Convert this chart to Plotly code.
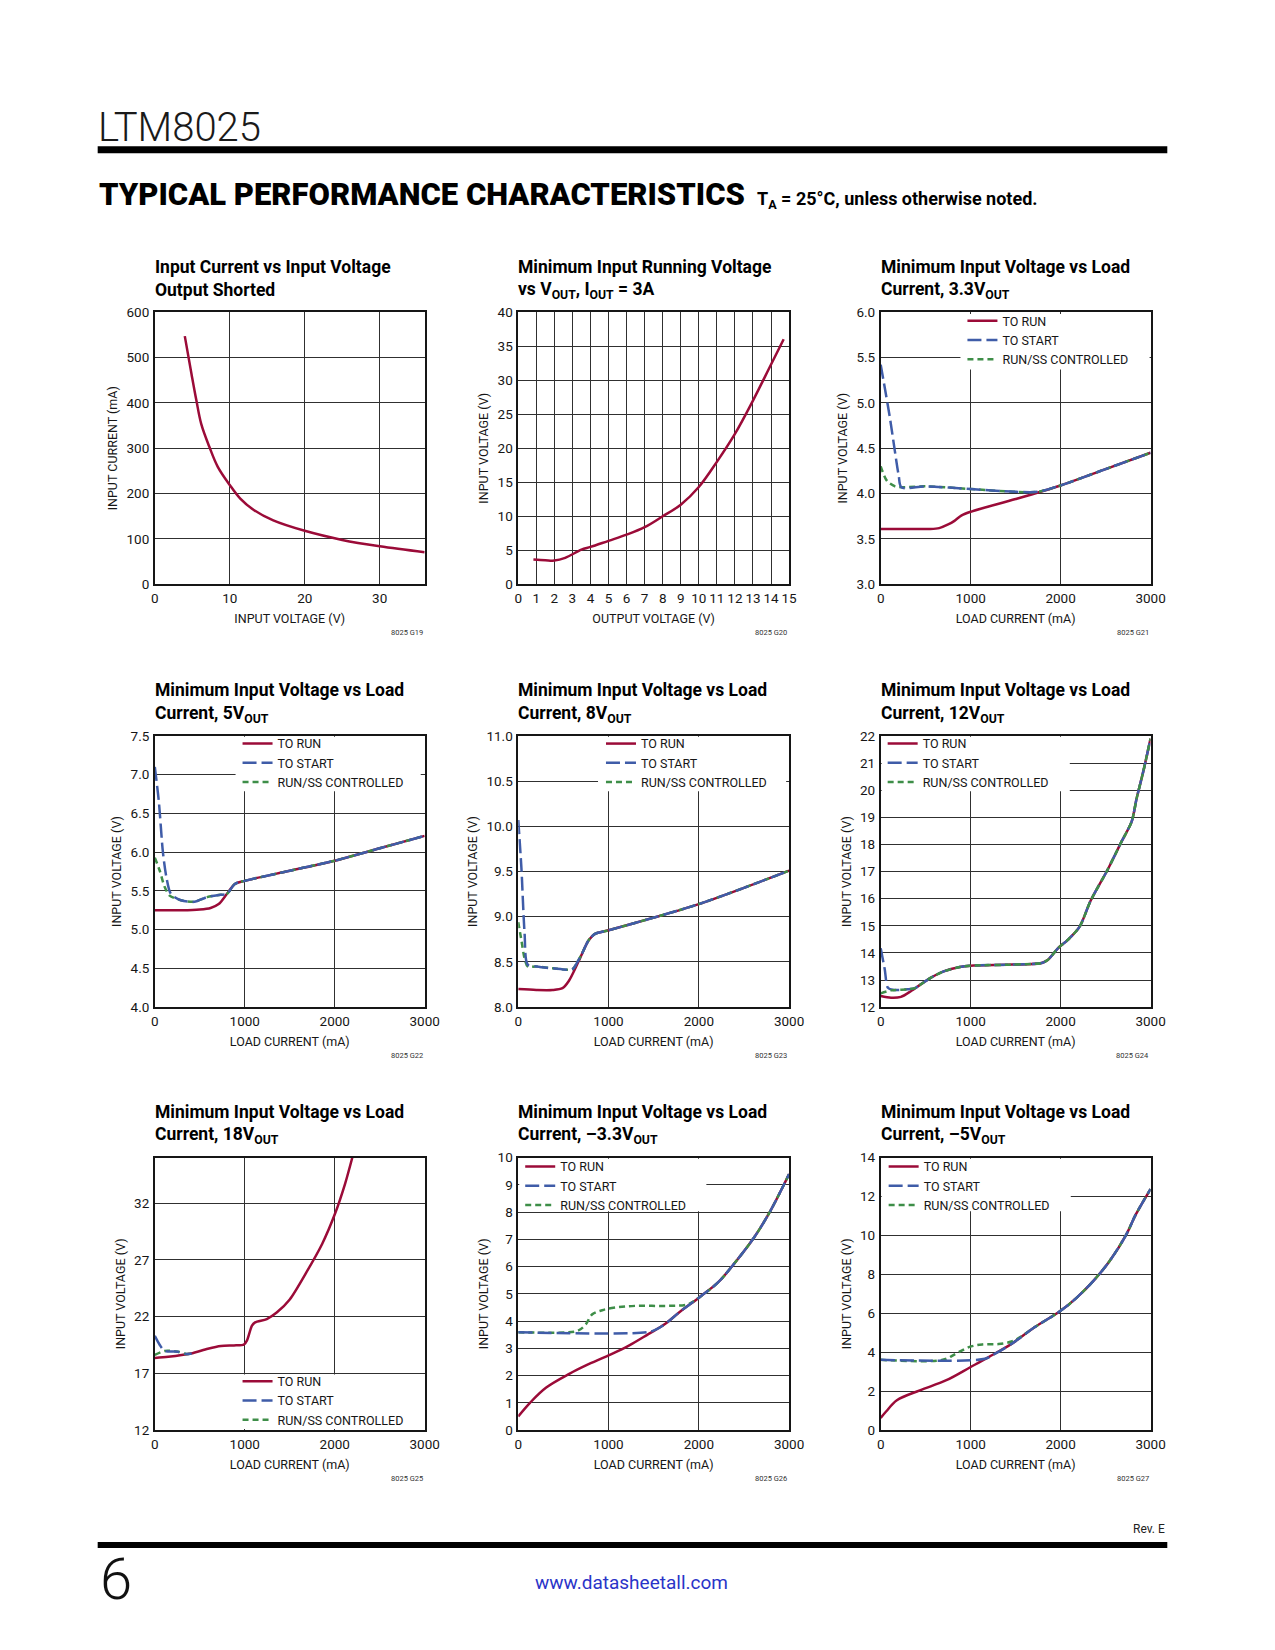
import plotly.graph_objects as go

PAGE_W, PAGE_H = 1275, 1650
OFF = 8  # default browser body margin
W, H = PAGE_W - 2 * OFF, PAGE_H - 2 * OFF  # figure fits the window without overflow
FONT = "Roboto, 'Liberation Sans', sans-serif"
INK = "#161616"
RED = "#9b0b38"
BLUE = "#3f5ca8"
GREEN = "#3e8e48"

# ---------------- data ----------------
# G19: input current vs input voltage, output shorted
g19_vin = [4.0, 4.9, 5.55, 6.2, 7.3, 8.4, 10, 11.4, 13.2, 15.8, 20, 25, 30, 36]
g19_iin = [547, 463, 405, 353, 302, 259, 219, 189, 164, 141, 118, 98, 84, 71]

# G20: minimum input running voltage vs VOUT (IOUT = 3A)
g20_vout = [0.84, 1.5, 2.0, 2.6, 3.5, 4.0, 5.0, 6.0, 7.0, 8.0, 9.0, 10.0, 11.0, 12.0, 13.0, 14.0, 14.7]
g20_vin = [3.65, 3.55, 3.5, 3.9, 5.1, 5.5, 6.4, 7.3, 8.4, 10.0, 11.7, 14.3, 18.0, 22.1, 27.0, 32.3, 36.0]

# G21: 3.3VOUT
g21_run_x = [0, 300, 550, 650, 750, 820, 900, 1000, 1500, 2000, 2500, 3000]
g21_run_y = [3.61, 3.61, 3.61, 3.62, 3.66, 3.70, 3.76, 3.80, 3.94, 4.09, 4.27, 4.45]
g21_start_x = [0, 100, 200, 230, 500, 1000, 1500, 1750, 2000, 2500, 3000]
g21_start_y = [5.42, 4.85, 4.20, 4.07, 4.08, 4.05, 4.02, 4.02, 4.09, 4.27, 4.45]
g21_ss_x = [0, 70, 160, 230, 500, 1000, 1500, 1750, 2000, 2500, 3000]
g21_ss_y = [4.30, 4.14, 4.08, 4.07, 4.08, 4.05, 4.02, 4.02, 4.09, 4.27, 4.45]

# G22: 5VOUT
g22_run_x = [0, 300, 500, 620, 710, 800, 890, 1000, 1500, 2000, 2500, 3000]
g22_run_y = [5.25, 5.25, 5.26, 5.28, 5.33, 5.46, 5.59, 5.63, 5.76, 5.89, 6.05, 6.21]
g22_start_x = [0, 45, 90, 130, 180, 290, 440, 580, 730, 800, 890, 1000, 1500, 2000, 2500, 3000]
g22_start_y = [7.10, 6.65, 6.00, 5.67, 5.46, 5.38, 5.36, 5.42, 5.45, 5.46, 5.59, 5.63, 5.76, 5.89, 6.05, 6.21]
g22_ss_x = [0, 55, 110, 165, 290, 440, 580, 730, 800, 890, 1000, 1500, 2000, 2500, 3000]
g22_ss_y = [5.93, 5.76, 5.55, 5.44, 5.38, 5.36, 5.42, 5.45, 5.46, 5.59, 5.63, 5.76, 5.89, 6.05, 6.21]

# G23: 8VOUT
g23_run_x = [0, 200, 380, 490, 560, 670, 780, 850, 1000, 1500, 2000, 2500, 3000]
g23_run_y = [8.20, 8.19, 8.19, 8.21, 8.29, 8.51, 8.74, 8.81, 8.85, 8.99, 9.14, 9.32, 9.51]
g23_start_x = [0, 35, 70, 105, 200, 380, 600, 650, 700, 780, 850, 1000, 1500, 2000, 2500, 3000]
g23_start_y = [10.07, 9.54, 8.82, 8.47, 8.45, 8.43, 8.42, 8.49, 8.58, 8.74, 8.81, 8.85, 8.99, 9.14, 9.32, 9.51]
g23_ss_x = [0, 35, 70, 105, 200, 380, 600, 650, 700, 780, 850, 1000, 1500, 2000, 2500, 3000]
g23_ss_y = [8.94, 8.74, 8.54, 8.45, 8.45, 8.43, 8.42, 8.49, 8.58, 8.74, 8.81, 8.85, 8.99, 9.14, 9.32, 9.51]

# G24: 12VOUT
g24_run_x = [0, 115, 225, 335, 445, 555, 700, 880, 1000, 1460, 1790, 1860, 1970, 2080, 2210, 2335,
             2515, 2680, 2790, 2845, 2920, 3000]
g24_run_y = [12.41, 12.35, 12.38, 12.59, 12.84, 13.08, 13.32, 13.48, 13.53, 13.57, 13.63, 13.75, 14.17,
             14.48, 14.96, 15.93, 17.02, 18.12, 18.84, 19.69, 20.7, 21.9]
g24_start_x = [0, 45, 80, 135, 300, 380] + g24_run_x[4:]
g24_start_y = [14.17, 13.40, 12.72, 12.64, 12.66, 12.70] + g24_run_y[4:]
g24_ss_x = [0, 115, 300, 380] + g24_run_x[4:]
g24_ss_y = [12.51, 12.62, 12.66, 12.70] + g24_run_y[4:]

# G25: 18VOUT
g25_run_x = [0, 150, 400, 590, 735, 880, 990, 1025, 1080, 1115, 1245, 1355, 1500, 1680, 1860, 2005, 2115, 2195]
g25_run_y = [18.35, 18.45, 18.74, 19.17, 19.41, 19.46, 19.52, 19.90, 21.2, 21.49, 21.78, 22.35, 23.51,
             25.83, 28.4, 31.1, 33.7, 36.0]
g25_start_x = [0, 55, 112, 258, 350, 410]
g25_start_y = [20.3, 19.5, 18.97, 18.9, 18.7, 18.75]
g25_ss_x = [0, 112, 258, 350, 410]
g25_ss_y = [18.62, 18.97, 18.9, 18.7, 18.75]

# G26: -3.3VOUT
g26_run_x = [0, 130, 310, 570, 750, 1000, 1225, 1445, 1625, 1805, 2005, 2210, 2355, 2610, 2790, 3000]
g26_run_y = [0.5, 1.0, 1.56, 2.07, 2.37, 2.74, 3.10, 3.53, 3.89, 4.38, 4.87, 5.41, 5.96, 7.06, 8.03, 9.4]
g26_start_x = [0, 1450, 1530] + g26_run_x[8:]
g26_start_y = [3.59, 3.60, 3.70] + g26_run_y[8:]
g26_ss_x = [0, 620, 690, 750, 820, 930, 1080, 1300, 1660, 1880] + g26_run_x[10:]
g26_ss_y = [3.59, 3.61, 3.70, 3.89, 4.25, 4.40, 4.50, 4.56, 4.56, 4.62] + g26_run_y[10:]

# G27: -5VOUT
g27_run_x = [0, 60, 180, 435, 730, 1000, 1200, 1455, 1710, 2000, 2180, 2365, 2545, 2730, 2835, 3000]
g27_run_y = [0.62, 0.95, 1.53, 2.04, 2.56, 3.24, 3.75, 4.43, 5.28, 6.13, 6.81, 7.67, 8.69, 10.05, 11.07, 12.39]
g27_start_x = [0, 1160, 1235] + g27_run_x[7:]
g27_start_y = [3.61, 3.66, 3.83] + g27_run_y[7:]
g27_ss_x = [0, 690, 835, 980, 1130, 1310, 1455, 1560] + g27_run_x[8:]
g27_ss_y = [3.61, 3.61, 3.92, 4.26, 4.40, 4.42, 4.55, 4.80] + g27_run_y[8:]

load_ticks = [0, 1000, 2000, 3000]

# ---------------- layout geometry (page pixels) ----------------
cols = [(153, 427), (522, 797), (890, 1164)]
rows = [(307, 582), (735, 1009), (1161, 1436)]


def fx(px):
    return (px - OFF) / W


def fy(py):
    return 1 - (py - OFF) / H


panels = [
    dict(t1="Input Current vs Input Voltage", t2="Output Shorted",
         xr=[0, 36], xt=[0, 10, 20, 30], yr=[0, 600], yt=[0, 100, 200, 300, 400, 500, 600], yf="",
         xtitle="INPUT VOLTAGE (V)", ytitle="INPUT CURRENT (mA)", code="8025 G19", sm=1.0,
         series=[(g19_vin, g19_iin, "r")], leg=None),
    dict(t1="Minimum Input Running Voltage", t2="vs V<sub>OUT</sub>, I<sub>OUT</sub> = 3A",
         xr=[0, 15], xt=list(range(0, 16)), yr=[0, 40], yt=[0, 5, 10, 15, 20, 25, 30, 35, 40], yf="",
         xtitle="OUTPUT VOLTAGE (V)", ytitle="INPUT VOLTAGE (V)", code="8025 G20", sm=1.0,
         series=[(g20_vout, g20_vin, "r")], leg=None),
    dict(t1="Minimum Input Voltage vs Load", t2="Current, 3.3V<sub>OUT</sub>",
         xr=[0, 3000], xt=load_ticks, yr=[3.0, 6.0], yt=[3.0, 3.5, 4.0, 4.5, 5.0, 5.5, 6.0], yf=".1f",
         xtitle="LOAD CURRENT (mA)", ytitle="INPUT VOLTAGE (V)", code="8025 G21", sm=0.8,
         series=[(g21_run_x, g21_run_y, "r"), (g21_ss_x, g21_ss_y, "g"), (g21_start_x, g21_start_y, "b")],
         leg=(978, 301), box=(971, 1163, 309, 365)),
    dict(t1="Minimum Input Voltage vs Load", t2="Current, 5V<sub>OUT</sub>",
         xr=[0, 3000], xt=load_ticks, yr=[4.0, 7.5], yt=[4.0, 4.5, 5.0, 5.5, 6.0, 6.5, 7.0, 7.5], yf=".1f",
         xtitle="LOAD CURRENT (mA)", ytitle="INPUT VOLTAGE (V)", code="8025 G22", sm=0.8,
         series=[(g22_run_x, g22_run_y, "r"), (g22_ss_x, g22_ss_y, "g"), (g22_start_x, g22_start_y, "b")],
         leg=(242, 728), box=(235, 423, 736, 791)),
    dict(t1="Minimum Input Voltage vs Load", t2="Current, 8V<sub>OUT</sub>",
         xr=[0, 3000], xt=load_ticks, yr=[8.0, 11.0], yt=[8.0, 8.5, 9.0, 9.5, 10.0, 10.5, 11.0], yf=".1f",
         xtitle="LOAD CURRENT (mA)", ytitle="INPUT VOLTAGE (V)", code="8025 G23", sm=0.8,
         series=[(g23_run_x, g23_run_y, "r"), (g23_ss_x, g23_ss_y, "g"), (g23_start_x, g23_start_y, "b")],
         leg=(611, 728), box=(603, 794, 736, 791)),
    dict(t1="Minimum Input Voltage vs Load", t2="Current, 12V<sub>OUT</sub>",
         xr=[0, 3000], xt=load_ticks, yr=[12, 22], yt=list(range(12, 23)), yf="",
         xtitle="LOAD CURRENT (mA)", ytitle="INPUT VOLTAGE (V)", code="8025 G24", sm=0.8,
         series=[(g24_run_x, g24_run_y, "r"), (g24_start_x, g24_start_y, "b"), (g24_ss_x, g24_ss_y, "g")],
         leg=(897, 728), box=(891, 1082, 736, 791)),
    dict(t1="Minimum Input Voltage vs Load", t2="Current, 18V<sub>OUT</sub>",
         xr=[0, 3000], xt=load_ticks, yr=[12, 36], yt=[12, 17, 22, 27, 32], yf="",
         xtitle="LOAD CURRENT (mA)", ytitle="INPUT VOLTAGE (V)", code="8025 G25", sm=0.8,
         series=[(g25_run_x, g25_run_y, "r"), (g25_ss_x, g25_ss_y, "g"), (g25_start_x, g25_start_y, "b")],
         leg=(242, 1372), box=(235, 426, 1380, 1435)),
    dict(t1="Minimum Input Voltage vs Load", t2="Current, \u20133.3V<sub>OUT</sub>",
         xr=[0, 3000], xt=load_ticks, yr=[0, 10], yt=list(range(0, 11)), yf="",
         xtitle="LOAD CURRENT (mA)", ytitle="INPUT VOLTAGE (V)", code="8025 G26", sm=1.0,
         series=[(g26_run_x, g26_run_y, "r"), (g26_ss_x, g26_ss_y, "g"), (g26_start_x, g26_start_y, "b")],
         leg=(529, 1155), box=(523, 713, 1162, 1215)),
    dict(t1="Minimum Input Voltage vs Load", t2="Current, \u20135V<sub>OUT</sub>",
         xr=[0, 3000], xt=load_ticks, yr=[0, 14], yt=[0, 2, 4, 6, 8, 10, 12, 14], yf="",
         xtitle="LOAD CURRENT (mA)", ytitle="INPUT VOLTAGE (V)", code="8025 G27", sm=1.0,
         series=[(g27_run_x, g27_run_y, "r"), (g27_ss_x, g27_ss_y, "g"), (g27_start_x, g27_start_y, "b")],
         leg=(898, 1155), box=(891, 1083, 1162, 1215)),
]

STYLE = {
    "r": dict(name="TO RUN", color=RED, dash="solid", rank=1),
    "b": dict(name="TO START", color=BLUE, dash="14px,5px", rank=2),
    "g": dict(name="RUN/SS CONTROLLED", color=GREEN, dash="6px,4px", rank=3),
}

fig = go.Figure()
layout = dict(
    width=W, height=H, margin=dict(l=0, r=0, t=0, b=0),
    paper_bgcolor="white", plot_bgcolor="white",
    font=dict(family=FONT, color=INK, size=14),
    annotations=[], shapes=[],
)

legend_idx = 0
for i, p in enumerate(panels):
    r, c = divmod(i, 3)
    n = i + 1
    sx = "" if n == 1 else str(n)
    x0, x1 = cols[c]
    y0, y1 = rows[r]
    axis_common = dict(showline=True, mirror=True, linecolor=INK, linewidth=1.6,
                       showgrid=True, gridcolor="#303030", gridwidth=1, zeroline=False,
                       ticks="", ticklabelstandoff=1, fixedrange=True, tickangle=0,
                       tickfont=dict(family=FONT, size=13.5, color=INK))
    layout["xaxis" + sx] = dict(axis_common, domain=[fx(x0), fx(x1)], range=p["xr"],
                                tickvals=p["xt"], anchor="y" + sx,
                                title=dict(text=p["xtitle"], standoff=9,
                                           font=dict(family=FONT, size=12.5, color=INK)))
    ya = dict(axis_common, domain=[fy(y1), fy(y0)], range=p["yr"], tickvals=p["yt"],
              anchor="x" + sx,
              title=dict(text=p["ytitle"], standoff=6,
                         font=dict(family=FONT, size=12.5, color=INK)))
    if p["yf"]:
        ya["tickformat"] = p["yf"]
    layout["yaxis" + sx] = ya

    legname = None
    if p["leg"] is not None:
        legend_idx += 1
        legname = "legend" if legend_idx == 1 else f"legend{legend_idx}"
        lx, ly = p["leg"]
        layout[legname] = dict(x=fx(lx - 5), y=fy(ly), xref="paper", yref="paper",
                               xanchor="left", yanchor="top", bgcolor="rgba(0,0,0,0)",
                               borderwidth=0, traceorder="normal",
                               font=dict(family=FONT, size=12.5, color=INK))
        # white patch behind the legend so that gridlines stop at it, as in the datasheet
        bx0, bx1, by0, by1 = p["box"]
        layout["shapes"].append(dict(
            type="rect", layer="above", xref="paper", yref="paper",
            x0=fx(bx0), x1=fx(bx1), y0=fy(by1), y1=fy(by0),
            fillcolor="white", line=dict(width=0)))

    for xs, ys, key in p["series"]:
        st = STYLE[key]
        tr = dict(x=xs, y=ys, mode="lines", name=st["name"], xaxis="x" + sx, yaxis="y" + sx,
                  line=dict(color=st["color"], width=2.5, dash=st["dash"], shape="spline",
                            smoothing=p["sm"]),
                  hoverinfo="skip", legendrank=st["rank"])
        if legname:
            tr["legend"] = legname
            tr["showlegend"] = True
        else:
            tr["showlegend"] = False
        fig.add_trace(go.Scatter(**tr))

    # chart titles
    layout["annotations"].append(dict(
        text=p["t1"], x=fx(x0 - 2), y=fy(y0 - 46), xref="paper", yref="paper",
        xanchor="left", yanchor="middle", showarrow=False,
        font=dict(family=FONT, size=17.5, color="#000", weight="bold")))
    layout["annotations"].append(dict(
        text=p["t2"], x=fx(x0 - 2), y=fy(y0 - 22), xref="paper", yref="paper",
        xanchor="left", yanchor="middle", showarrow=False,
        font=dict(family=FONT, size=17.5, color="#000", weight="bold")))
    # figure code
    layout["annotations"].append(dict(
        text=p["code"], x=fx(x1), y=fy(y1 + 49), xref="paper", yref="paper",
        xanchor="right", yanchor="middle", showarrow=False,
        font=dict(family=FONT, size=7.5, color="#333")))

# page header / footer rules
layout["shapes"].append(dict(type="line", xref="paper", yref="paper",
                             x0=fx(95), x1=fx(1181), y0=fy(143), y1=fy(143),
                             line=dict(color="#000", width=7)))
layout["shapes"].append(dict(type="line", xref="paper", yref="paper",
                             x0=fx(95), x1=fx(1181), y0=fy(1552), y1=fy(1552),
                             line=dict(color="#000", width=6)))
header = [
    dict(text="LTM8025", x=93, y=121, xa="left", size=40, weight=300, color="#1a1a1a"),
    dict(text="TYPICAL PERFORMANCE CHARACTERISTICS", x=94, y=188, xa="left", size=31,
         weight=900, color="#000"),
    dict(text="T<sub>A</sub> = 25\u00b0C, unless otherwise noted.", x=762, y=194, xa="left", size=18,
         weight="bold", color="#000"),
    dict(text="Rev. E", x=1181, y=1536, xa="right", size=12, weight="normal", color="#222"),
    dict(text="6", x=95, y=1586, xa="left", size=58, weight=300, color="#111"),
    dict(text="www.datasheetall.com", x=637, y=1590, xa="center", size=19, weight="normal",
         color="#2a34c8"),
]
for h in header:
    layout["annotations"].append(dict(
        text=h["text"], x=fx(h["x"]), y=fy(h["y"]), xref="paper", yref="paper",
        xanchor=h["xa"], yanchor="middle", showarrow=False,
        font=dict(family=FONT, size=h["size"], color=h["color"], weight=h["weight"])))

fig.update_layout(**layout)
fig.write_html("out.html")
